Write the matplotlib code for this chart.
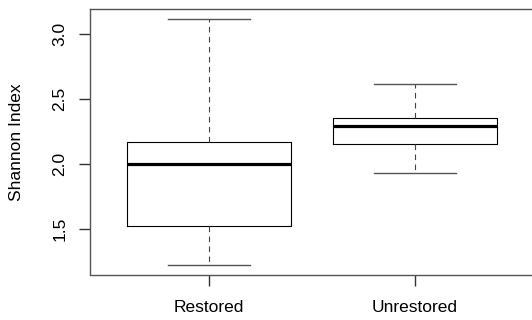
import matplotlib.pyplot as plt
import numpy as np

groups = ["Restored", "Unrestored"]
whisker_low = [1.223, 1.933]
q1 = [1.518, 2.152]
median = [2.000, 2.292]
q3 = [2.170, 2.356]
whisker_high = [3.115, 2.615]
y_ticks = [1.5, 2.0, 2.5, 3.0]


def plot_chart():
    plt.rcParams['font.family'] = ['Liberation Sans', 'DejaVu Sans']
    fig = plt.figure(figsize=(5.32, 3.2), dpi=100)
    ax = fig.add_axes([89.5 / 532, 1 - 274.5 / 320, 445 / 532, 265.2 / 320])

    stats = []
    for i, g in enumerate(groups):
        stats.append({"label": g, "whislo": whisker_low[i], "q1": q1[i],
                      "med": median[i], "q3": q3[i], "whishi": whisker_high[i],
                      "fliers": []})

    ax.bxp(stats, positions=[1, 2], widths=0.8, showfliers=False,
           boxprops=dict(color="black", linewidth=0.8),
           medianprops=dict(color="black", linewidth=2.3, solid_capstyle="butt"),
           whiskerprops=dict(color="#444444", linewidth=0.8, linestyle=(0, (5, 4))),
           capprops=dict(color="#555555", linewidth=1.0),
           capwidths=0.4)

    ax.set_xlim(0.42, 2.58)
    ymin = min(whisker_low)
    ymax = max(whisker_high)
    ext = (ymax - ymin) * 0.04
    ax.set_ylim(ymin - ext, ymax + ext)

    ax.set_yticks(y_ticks)
    ax.set_yticklabels(["%.1f" % t for t in y_ticks], rotation=90, va="center")
    ax.set_xticks([1, 2])
    ax.set_xticklabels(groups)
    ax.tick_params(axis="both", labelsize=12.5, length=8, width=1,
                   color="#333333")
    ax.tick_params(axis="y", pad=8)
    ax.tick_params(axis="x", pad=10)
    for s in ax.spines.values():
        s.set_color("#555555")
        s.set_linewidth(1)

    fig.text(17 / 532, 1 - 142 / 320, "Shannon Index", rotation=90,
             ha="center", va="center", fontsize=12.5)

    fig.savefig("out.png", dpi=100)


if __name__ == '__main__':
    plot_chart()
